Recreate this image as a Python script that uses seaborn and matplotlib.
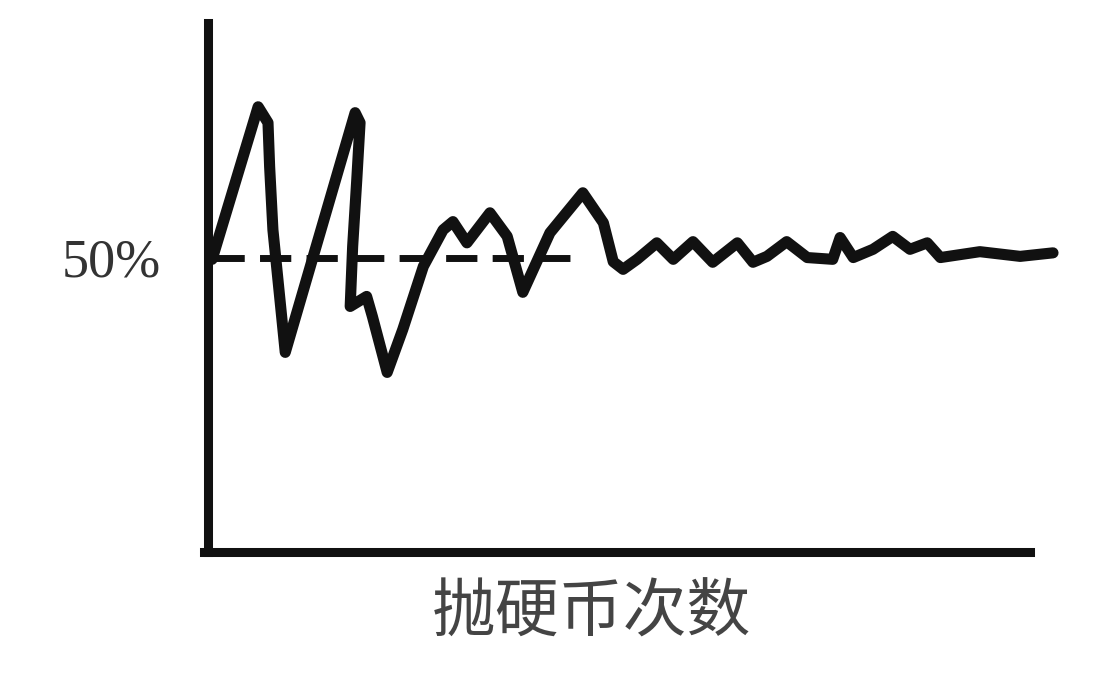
import matplotlib
matplotlib.use("Agg")
import matplotlib.pyplot as plt
import seaborn as sns
import pandas as pd

# hand-drawn curve: toss count (0..100 scale) vs share of heads (%)
tosses = [0.5, 6.1, 7.3, 7.5, 7.9, 9.4, 17.9, 18.5, 18.1, 17.6, 17.3, 19.3, 20.0, 21.8,
          23.7, 26.2, 28.6, 29.8, 31.5, 34.3, 36.4, 38.3, 41.6, 45.6, 48.1, 49.3, 50.5,
          52.2, 54.6, 56.6, 59.0, 61.4, 64.4, 66.3, 68.0, 70.4, 72.9, 76.0, 76.9, 78.5,
          80.9, 83.3, 85.4, 87.5, 89.1, 93.9, 98.8, 102.8]
heads_pct = [49.7, 75.6, 72.9, 65.4, 54.7, 33.9, 74.6, 72.9, 63.2, 51.9, 41.7, 43.4, 40.0, 30.5,
             37.8, 48.5, 54.7, 56.1, 52.5, 57.6, 53.6, 44.1, 54.2, 61.0, 55.9, 49.3, 48.0,
             49.7, 52.5, 49.7, 52.7, 49.2, 52.5, 49.2, 50.2, 52.7, 50.0, 49.7, 53.4, 50.0,
             51.4, 53.6, 51.4, 52.5, 50.0, 51.0, 50.2, 50.8]

ref_x = [0.6, 45.0]
ref_y = [50, 50]

y_ticks = [50]
y_tick_labels = ["50%"]
x_label = "抛硬币次数"

sns.set_style("white")
plt.rcParams["font.family"] = ["Noto Sans CJK SC", "DejaVu Sans"]

fig = plt.figure(figsize=(11.2, 6.78), dpi=100)
ax = fig.add_axes([0.1857, 0.1858, 0.949 - 0.1857, 0.978 - 0.1858])

ink = "#111111"
ax.plot(ref_x, ref_y, color=ink, lw=5, dashes=(4.5, 2.2), solid_capstyle="butt")

df = pd.DataFrame({"tosses": tosses, "heads": heads_pct})
sns.lineplot(data=df, x="tosses", y="heads", sort=False, estimator=None,
             color=ink, lw=8, ax=ax)
for ln in ax.lines:
    ln.set_solid_joinstyle("round")
    ln.set_solid_capstyle("round")
ax.lines[-1].set_clip_on(False)

ax.set_xlim(0, 104)
ax.set_ylim(0, 91.2)

for side in ["top", "right"]:
    ax.spines[side].set_visible(False)
ax.spines["left"].set_linewidth(6.5)
ax.spines["bottom"].set_linewidth(6.5)
ax.spines["left"].set_color(ink)
ax.spines["bottom"].set_color(ink)
ax.spines["bottom"].set_bounds(-0.5, 100)
ax.spines["left"].set_bounds(0, 89.8)

ax.set_xticks([])
ax.set_yticks(y_ticks)
ax.set_yticklabels(y_tick_labels, family="Liberation Serif", fontsize=39, color="#333333")
ax.tick_params(axis="y", length=0, pad=34)

ax.set_xlabel(x_label, fontsize=46, color="#444444", fontweight="light")
ax.xaxis.set_label_coords(0.448, -0.052)
ax.set_ylabel("")

fig.savefig("out.png", dpi=100, facecolor="white")
